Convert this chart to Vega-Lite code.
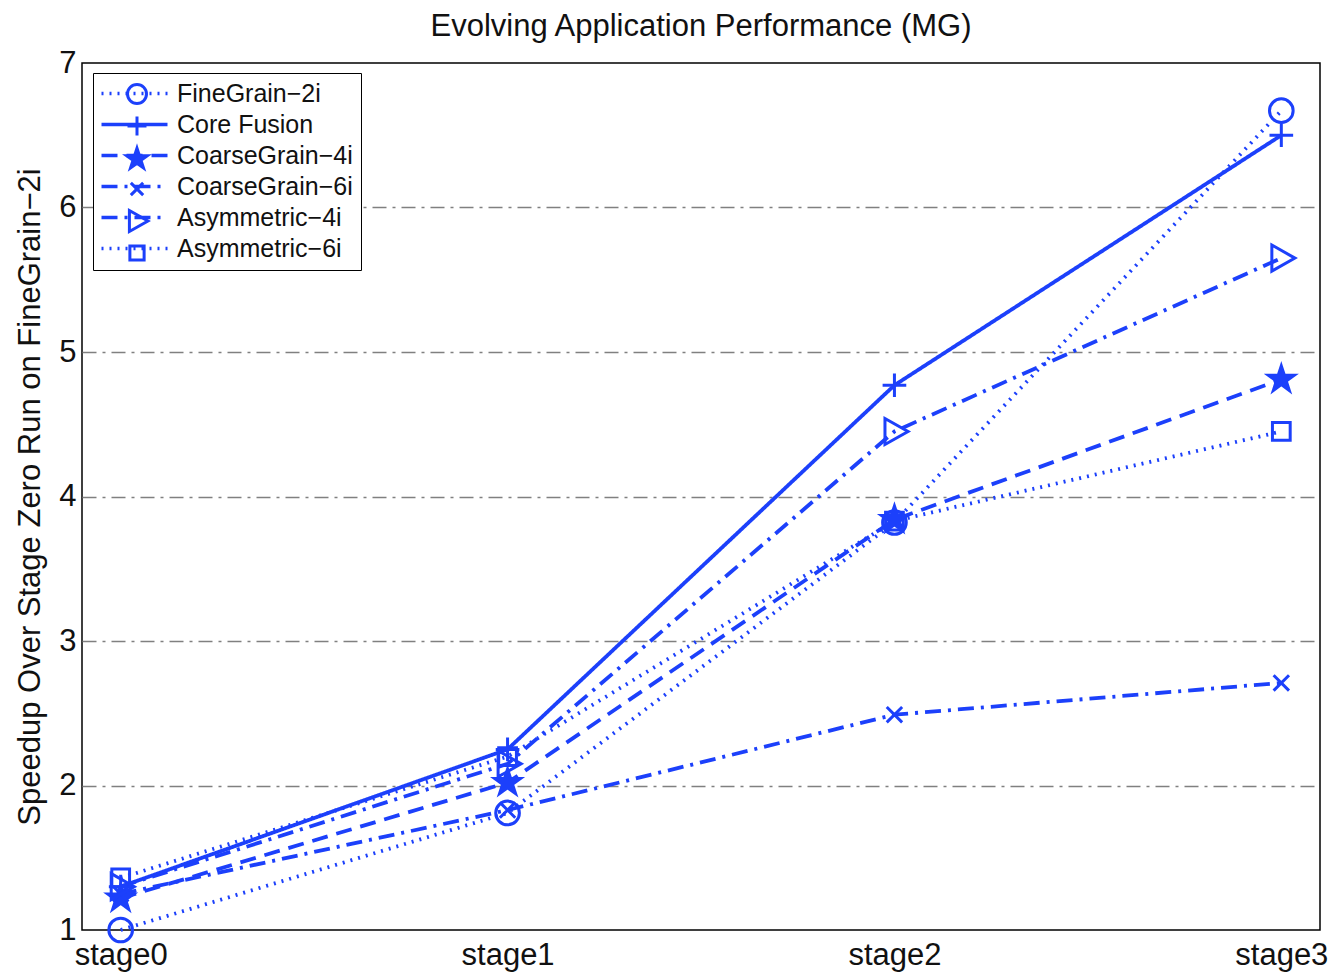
{
  "$schema": "https://vega.github.io/schema/vega-lite/v6.json",
  "width": 1238,
  "height": 867,
  "autosize": {"type": "none"},
  "padding": {"left": 82, "top": 63, "right": 16, "bottom": 45},
  "background": "white",
  "title": {
    "text": "Evolving Application Performance (MG)",
    "font": "Liberation Sans",
    "fontSize": 31,
    "fontWeight": "normal",
    "color": "#111111",
    "frame": "group",
    "offset": 4,
    "anchor": "middle"
  },
  "config": {
    "font": "Liberation Sans",
    "view": {"stroke": "#000000", "strokeWidth": 1.5}
  },
  "data": {
    "values": [
      {"series": "FineGrain−2i", "stage": 1, "value": 1.0},
      {"series": "FineGrain−2i", "stage": 2, "value": 1.81},
      {"series": "FineGrain−2i", "stage": 3, "value": 3.82},
      {"series": "FineGrain−2i", "stage": 4, "value": 6.67},
      {"series": "Core Fusion", "stage": 1, "value": 1.3},
      {"series": "Core Fusion", "stage": 2, "value": 2.25},
      {"series": "Core Fusion", "stage": 3, "value": 4.77},
      {"series": "Core Fusion", "stage": 4, "value": 6.5},
      {"series": "CoarseGrain−4i", "stage": 1, "value": 1.22},
      {"series": "CoarseGrain−4i", "stage": 2, "value": 2.02},
      {"series": "CoarseGrain−4i", "stage": 3, "value": 3.84},
      {"series": "CoarseGrain−4i", "stage": 4, "value": 4.81},
      {"series": "CoarseGrain−6i", "stage": 1, "value": 1.25},
      {"series": "CoarseGrain−6i", "stage": 2, "value": 1.83},
      {"series": "CoarseGrain−6i", "stage": 3, "value": 2.49},
      {"series": "CoarseGrain−6i", "stage": 4, "value": 2.71},
      {"series": "Asymmetric−4i", "stage": 1, "value": 1.3},
      {"series": "Asymmetric−4i", "stage": 2, "value": 2.15},
      {"series": "Asymmetric−4i", "stage": 3, "value": 4.45},
      {"series": "Asymmetric−4i", "stage": 4, "value": 5.65},
      {"series": "Asymmetric−6i", "stage": 1, "value": 1.36},
      {"series": "Asymmetric−6i", "stage": 2, "value": 2.2},
      {"series": "Asymmetric−6i", "stage": 3, "value": 3.83},
      {"series": "Asymmetric−6i", "stage": 4, "value": 4.45}
    ]
  },
  "encoding": {
    "x": {
      "field": "stage",
      "type": "quantitative",
      "scale": {"domain": [0.9, 4.1], "nice": false, "zero": false},
      "axis": {
        "title": null,
        "values": [1, 2, 3, 4],
        "labelExpr": "'stage' + (datum.value - 1)",
        "labelFontSize": 31,
        "labelColor": "#111111",
        "labelPadding": 10,
        "ticks": false,
        "domain": false,
        "grid": false,
        "labelFlush": false
      }
    },
    "y": {
      "field": "value",
      "type": "quantitative",
      "scale": {"domain": [1, 7], "nice": false, "zero": false},
      "axis": {
        "title": "Speedup Over Stage Zero Run on FineGrain−2i",
        "titleFontSize": 31,
        "titleFontWeight": "normal",
        "titleColor": "#111111",
        "titlePadding": 12,
        "values": [1, 2, 3, 4, 5, 6, 7],
        "labelFontSize": 31,
        "labelColor": "#111111",
        "labelPadding": 6,
        "labelFlush": false,
        "ticks": false,
        "domain": false,
        "grid": true,
        "gridColor": "#808080",
        "gridWidth": 1.5,
        "gridDash": [14, 6, 3, 6],
        "gridOpacity": {"condition": {"test": "datum.value == 1 || datum.value == 7", "value": 0}, "value": 1}
      }
    }
  },
  "layer": [
    {
      "mark": {"type": "line", "color": "#1c40fb", "strokeWidth": 3.8},
      "encoding": {
        "strokeDash": {
          "field": "series",
          "type": "nominal",
          "scale": {
            "domain": ["FineGrain−2i", "Core Fusion", "CoarseGrain−4i", "CoarseGrain−6i", "Asymmetric−4i", "Asymmetric−6i"],
            "range": [[2, 6], [1, 0], [16, 9], [16, 7, 3, 7], [16, 7, 3, 7], [2, 6]]
          },
          "legend": {
            "title": null,
            "orient": "none",
            "legendX": 11,
            "legendY": 10,
            "zindex": 1,
            "padding": 8,
            "fillColor": "white",
            "strokeColor": "#000000",
            "symbolType": "M-3.3,0H3.3",
            "symbolSize": 400,
            "symbolStrokeColor": "#1c40fb",
            "symbolStrokeWidth": 3.5,
            "symbolOffset": 21,
            "labelFontSize": 25,
            "labelColor": "#111111",
            "labelOffset": 30,
            "labelLimit": 400,
            "rowPadding": 5
          }
        }
      }
    },
    {
      "mark": {"type": "point", "filled": false, "color": "#1c40fb", "strokeWidth": 3, "opacity": 1, "size": 560},
      "encoding": {
        "shape": {
          "field": "series",
          "type": "nominal",
          "scale": {
            "domain": ["FineGrain−2i", "Core Fusion", "CoarseGrain−4i", "CoarseGrain−6i", "Asymmetric−4i", "Asymmetric−6i"],
            "range": ["circle", "M-1,0H1M0,-1V1", "M0,-1.15L0.259,-0.355L1.094,-0.355L0.417,0.136L0.676,0.93L0,0.439L-0.676,0.93L-0.417,0.136L-1.094,-0.355L-0.259,-0.355ZM0,-0.69L0.155,-0.213L0.656,-0.213L0.25,0.082L0.406,0.558L0,0.263L-0.406,0.558L-0.25,0.082L-0.656,-0.213L-0.155,-0.213ZM0,-0.345L0.078,-0.107L0.328,-0.107L0.125,0.041L0.203,0.279L0,0.132L-0.203,0.279L-0.125,0.041L-0.328,-0.107L-0.078,-0.107Z", "M-0.65,-0.65L0.65,0.65M-0.65,0.65L0.65,-0.65", "M-0.8,-1.1L1.15,0L-0.8,1.1Z", "M-0.75,-0.75H0.75V0.75H-0.75Z"]
          },
          "legend": {
            "title": null,
            "orient": "none",
            "legendX": 11,
            "legendY": 8,
            "zindex": 2,
            "padding": 8,
            "symbolSize": 360,
            "symbolStrokeColor": "#1c40fb",
            "symbolStrokeWidth": 3,
            "symbolOffset": 21,
            "labelFontSize": 30,
            "labelColor": "transparent",
            "labelOffset": 30,
            "labelLimit": 400,
            "rowPadding": 0,
            "encode": {
              "symbols": {
                "update": {
                  "size": {"value": 360},
                  "opacity": {"value": 1}
                }
              }
            }
          }
        },
        "fill": {
          "condition": {"test": "datum.series === 'CoarseGrain−4i'", "value": "#1c40fb"},
          "value": "transparent"
        }
      }
    }
  ],
  "resolve": {"legend": {"strokeDash": "independent", "shape": "independent"}}
}
